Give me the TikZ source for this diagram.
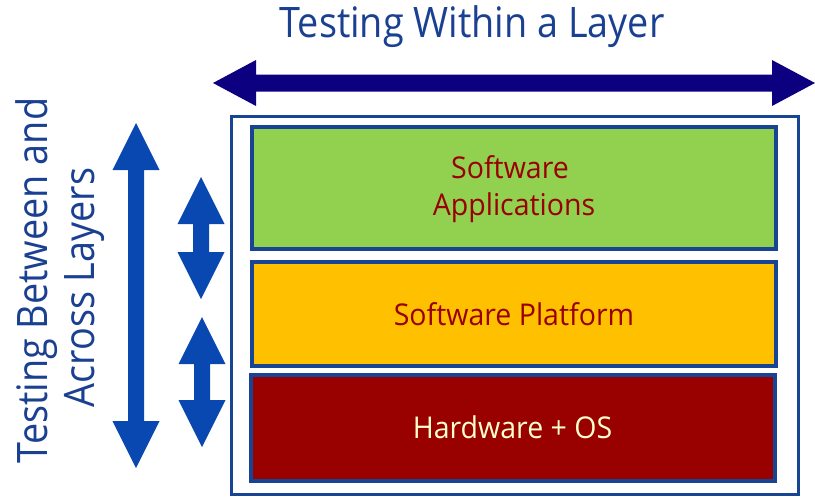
\documentclass[tikz,border=0pt]{standalone}
\usepackage{fontspec}
\setmainfont{Open Sans}
\definecolor{navyarrow}{RGB}{12,0,128}
\definecolor{bluearrow}{RGB}{8,72,176}
\definecolor{frameblue}{RGB}{24,68,148}
\definecolor{titleblue}{RGB}{26,64,146}
\definecolor{appgreen}{RGB}{146,208,80}
\definecolor{platorange}{RGB}{255,192,0}
\definecolor{hwred}{RGB}{153,0,0}
\definecolor{hwtext}{RGB}{255,255,204}
% narrowed headline text
\newcommand\narrowtxt[1]{\scalebox{0.9}[1]{#1}}
\newcommand\layertxt[1]{\scalebox{0.95}[1]{#1}}
% vertical double arrow: x, top tip, bottom tip, head length, half head width, half shaft width
\newcommand\vdarrow[6]{%
  \fill (#1,#2) -- (#1+#5,#2+#4) -- (#1+#6,#2+#4) -- (#1+#6,#3-#4) -- (#1+#5,#3-#4)
    -- (#1,#3) -- (#1-#5,#3-#4) -- (#1-#6,#3-#4) -- (#1-#6,#2+#4) -- (#1-#5,#2+#4) -- cycle;}
\tikzset{
  layer/.style={draw=frameblue, line width=3.5pt, minimum width=524pt, inner sep=0pt},
  layerlabel/.style={anchor=base, inner sep=0pt, font=\fontsize{30}{37}\selectfont},
  heading/.style={text=titleblue, font=\fontsize{42}{47}\selectfont, inner sep=0pt, anchor=base},
}
\begin{document}
\begin{tikzpicture}[x=1pt,y=-1pt]
\useasboundingbox (0,0) rectangle (815,498);
% title
\node[heading] (title) at (472,37) {\narrowtxt{Testing Within a Layer}};
% horizontal double arrow
\fill[navyarrow] (213,83) -- (256,60) -- (256,74.5) -- (772,74.5) -- (772,60) -- (815,83)
  -- (772,106) -- (772,91.5) -- (256,91.5) -- (256,106) -- cycle;
% rotated side label, two lines
\node[heading, rotate=90] (side1) at (47,280.5) {\narrowtxt{Testing Between and}};
\node[heading, rotate=90] (side2) at (94,287.5) {\narrowtxt{Across Layers}};
% vertical arrows
\begin{scope}[fill=bluearrow]
  \vdarrow{136}{123}{468}{47}{23.5}{8}
  \vdarrow{201}{177}{299}{47}{23.5}{8}
  \vdarrow{202}{317}{447}{47}{23.5}{8}
\end{scope}
% outer frame
\node[draw=frameblue, line width=3pt, minimum width=567pt, minimum height=378pt, inner sep=0pt]
  (frame) at (514.5,305) {};
% layers
\node[layer, fill=appgreen, minimum height=122pt] (apps) at (514,188) {};
\node[layer, fill=platorange, minimum height=104pt] (platform) at (514,314) {};
\node[layer, fill=hwred, minimum height=106pt] (hw) at (513,428) {};
% layer labels
\node[layerlabel, text=hwred] (appsA) at (510,178) {\layertxt{Software}};
\node[layerlabel, text=hwred] (appsB) at (514,215) {\layertxt{Applications}};
\node[layerlabel, text=hwred] (platformtxt) at (514,325) {\layertxt{Software Platform}};
\node[layerlabel, text=hwtext] (hwtxt) at (512.5,438) {\layertxt{Hardware + OS}};
\end{tikzpicture}
\end{document}
